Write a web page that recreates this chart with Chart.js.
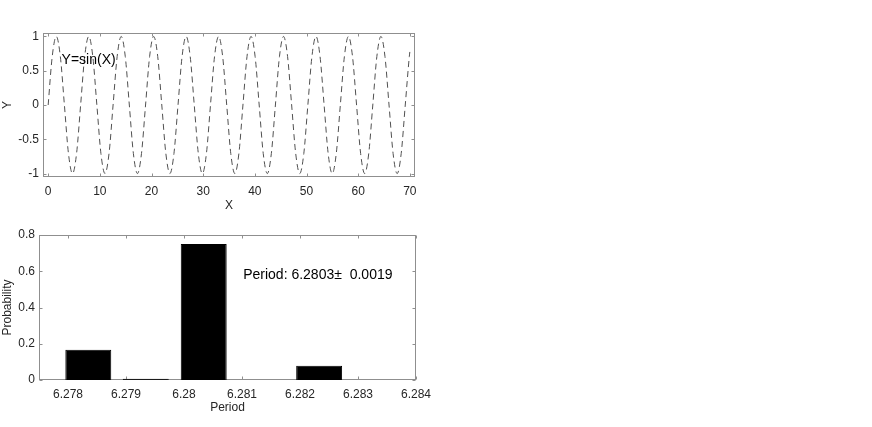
<!DOCTYPE html>
<html>
<head>
<meta charset="utf-8">
<script src="https://cdn.jsdelivr.net/npm/chart.js@4/dist/chart.umd.min.js"></script>
<style>
  body { margin: 0; background: #fff; }
  #sinBox { position: absolute; left: 0; top: 0; width: 440px; height: 220px; }
  #periodBox { position: absolute; left: 0; top: 220px; width: 440px; height: 200px; }
</style>
</head>
<body>
<div id="sinBox"><canvas id="sinChart" width="440" height="220"></canvas></div>
<div id="periodBox"><canvas id="periodChart" width="440" height="200"></canvas></div>
<script>
// top plot: Y = sin(X), read every quarter of a half period
const sinX = [0, 0.785, 1.571, 2.356, 3.142, 3.927, 4.712, 5.498, 6.283, 7.069,
  7.854, 8.639, 9.425, 10.21, 10.996, 11.781, 12.566, 13.352, 14.137, 14.923,
  15.708, 16.493, 17.279, 18.064, 18.85, 19.635, 20.42, 21.206, 21.991, 22.777,
  23.562, 24.347, 25.133, 25.918, 26.704, 27.489, 28.274, 29.06, 29.845, 30.631,
  31.416, 32.201, 32.987, 33.772, 34.558, 35.343, 36.128, 36.914, 37.699, 38.485,
  39.27, 40.055, 40.841, 41.626, 42.412, 43.197, 43.982, 44.768, 45.553, 46.338,
  47.124, 47.909, 48.695, 49.48, 50.265, 51.051, 51.836, 52.622, 53.407, 54.192,
  54.978, 55.763, 56.549, 57.334, 58.119, 58.905, 59.69, 60.476, 61.261, 62.046,
  62.832, 63.617, 64.403, 65.188, 65.973, 66.759, 67.544, 68.33, 69.115, 69.9, 70];
const sinY = [0, 0.707, 1, 0.707, 0, -0.707, -1, -0.707, 0, 0.707,
  1, 0.707, 0, -0.707, -1, -0.707, 0, 0.707, 1, 0.707,
  0, -0.707, -1, -0.707, 0, 0.707, 1, 0.707, 0, -0.707,
  -1, -0.707, 0, 0.707, 1, 0.707, 0, -0.707, -1, -0.707,
  0, 0.707, 1, 0.707, 0, -0.707, -1, -0.707, 0, 0.707,
  1, 0.707, 0, -0.707, -1, -0.707, 0, 0.707, 1, 0.707,
  0, -0.707, -1, -0.707, 0, 0.707, 1, 0.707, 0, -0.707,
  -1, -0.707, 0, 0.707, 1, 0.707, 0, -0.707, -1, -0.707,
  0, 0.707, 1, 0.707, 0, -0.707, -1, -0.707, 0, 0.707, 0.774];
const sinXTicks = [0, 10, 20, 30, 40, 50, 60, 70];
const sinXTickLabels = ['0', '10', '20', '30', '40', '50', '60', '70'];
const sinYTicks = [-1, -0.5, 0, 0.5, 1];
const sinYTickLabels = ['-1', '-0.5', '0', '0.5', '1'];
const sinText = 'Y=sin(X)';
const sinTextAt = [2.6, 0.656];

// bottom plot: histogram of the period
const periodBins = [6.27736, 6.27835, 6.27934, 6.28034, 6.28133, 6.28233, 6.28332];
const periodProb = [0, 0.167, 0.007, 0.75, 0, 0.079, 0];
const periodTicks = [6.278, 6.279, 6.28, 6.281, 6.282, 6.283, 6.284];
const periodTickLabels = ['6.278', '6.279', '6.28', '6.281', '6.282', '6.283', '6.284'];
const probTicks = [0, 0.2, 0.4, 0.6, 0.8];
const probTickLabels = ['0', '0.2', '0.4', '0.6', '0.8'];
const periodText = 'Period: 6.2803\u00b1  0.0019';
const periodTextAt = [6.28102, 0.579];

const FONT = 'Liberation Sans, Arial, Helvetica, sans-serif';
const TEXT = '#262626';
const AXIS = '#8f8f8f';

// MATLAB-like box with inward ticks on all four sides, plus a text note
const boxPlugin = {
  id: 'boxTicks',
  beforeDatasetsDraw(chart) {
    const ctx = chart.ctx;
    const a = chart.chartArea;
    const xs = chart.scales.x;
    const ys = chart.scales.y;
    const l = Math.round(a.left) + 0.5, r = Math.round(a.right) - 0.5;
    const t = Math.round(a.top) + 0.5, b = Math.round(a.bottom) - 0.5;
    ctx.save();
    ctx.strokeStyle = AXIS;
    ctx.lineWidth = 1;
    ctx.strokeRect(l, t, r - l, b - t);
    ctx.beginPath();
    xs.ticks.forEach(tk => {
      const px = Math.round(xs.getPixelForValue(tk.value)) + 0.5;
      ctx.moveTo(px, b); ctx.lineTo(px, b - 3);
      ctx.moveTo(px, t); ctx.lineTo(px, t + 3);
    });
    ys.ticks.forEach(tk => {
      const py = Math.round(ys.getPixelForValue(tk.value)) + 0.5;
      ctx.moveTo(l, py); ctx.lineTo(l + 3, py);
      ctx.moveTo(r, py); ctx.lineTo(r - 3, py);
    });
    ctx.stroke();
    ctx.restore();
  },
  afterDraw(chart) {
    const note = chart.options.plugins.boxTicks;
    if (!note || !note.text) return;
    const ctx = chart.ctx;
    ctx.save();
    ctx.fillStyle = '#000';
    ctx.font = '14px ' + FONT;
    ctx.textAlign = 'left';
    ctx.textBaseline = 'middle';
    ctx.fillText(note.text, chart.scales.x.getPixelForValue(note.at[0]), chart.scales.y.getPixelForValue(note.at[1]));
    ctx.restore();
  }
};

function axisOpts(min, max, tickValues, tickLabels, title, size, titlePad, tickPad) {
  return {
    type: 'linear',
    min: min,
    max: max,
    offset: false,
    grid: { display: false, drawTicks: false },
    border: { display: false },
    afterBuildTicks: (scale) => {
      scale.ticks = tickValues.map(v => ({ value: v }));
    },
    afterFit: (scale) => {
      if (scale.isHorizontal()) scale.height = size;
      else scale.width = size;
    },
    ticks: {
      color: TEXT,
      font: { family: FONT, size: 12 },
      padding: tickPad,
      maxRotation: 0,
      autoSkip: false,
      callback: (v, i) => tickLabels[i]
    },
    title: {
      display: true,
      text: title,
      color: TEXT,
      font: { family: FONT, size: 12 },
      padding: titlePad
    }
  };
}

document.addEventListener('DOMContentLoaded', function () {
  Chart.defaults.font.family = FONT;

  let ctx = document.getElementById('sinChart').getContext('2d');
  let sinChart = new Chart(ctx, {
    type: 'line',
    data: {
      datasets: [
        {
          data: sinX.map((x, i) => ({ x: x, y: sinY[i] })),
          borderColor: '#505050',
          borderWidth: 1,
          borderDash: [6, 4],
          pointRadius: 0,
          fill: false,
          cubicInterpolationMode: 'monotone'
        }
      ]
    },
    options: {
      responsive: false,
      animation: false,
      layout: { padding: { left: 0, top: 33, right: 25, bottom: 0 } },
      plugins: {
        legend: { display: false },
        tooltip: { enabled: false },
        boxTicks: { text: sinText, at: sinTextAt }
      },
      scales: {
        x: axisOpts(-1, 71, sinXTicks, sinXTickLabels, 'X', 43, { top: 0, bottom: 7 }, 7),
        y: axisOpts(-1.05, 1.05, sinYTicks, sinYTickLabels, 'Y', 43, { top: 0, bottom: 0 }, 4)
      }
    },
    plugins: [boxPlugin]
  });

  let ctx2 = document.getElementById('periodChart').getContext('2d');
  let periodChart = new Chart(ctx2, {
    type: 'bar',
    data: {
      datasets: [
        {
          data: periodBins.map((x, i) => ({ x: x, y: periodProb[i] })),
          backgroundColor: '#000',
          borderColor: '#000',
          borderWidth: 1,
          barPercentage: 0.8,
          categoryPercentage: 1.0
        }
      ]
    },
    options: {
      responsive: false,
      animation: false,
      layout: { padding: { left: 0, top: 15, right: 24, bottom: 0 } },
      plugins: {
        legend: { display: false },
        tooltip: { enabled: false },
        boxTicks: { text: periodText, at: periodTextAt }
      },
      scales: {
        x: axisOpts(6.2775, 6.284, periodTicks, periodTickLabels, 'Period', 40, { top: 0, bottom: 5 }, 7),
        y: axisOpts(0, 0.8, probTicks, probTickLabels, 'Probability', 39, { top: 0, bottom: 0 }, 4)
      }
    },
    plugins: [boxPlugin]
  });
});
</script>
</body>
</html>
